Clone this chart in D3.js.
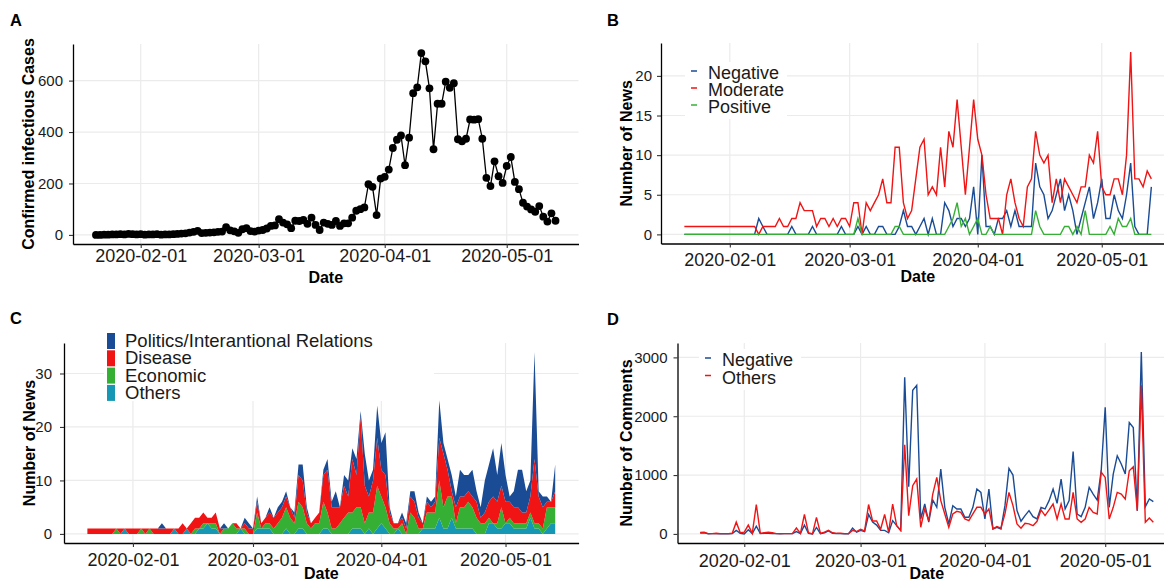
<!DOCTYPE html>
<html>
<head>
<meta charset="utf-8">
<script src="https://cdn.jsdelivr.net/npm/d3@7"></script>
<style>
  body { margin: 0; background: #fff; }
  text { font-family: "Liberation Sans", Arial, Helvetica, sans-serif; }
</style>
</head>
<body>
<svg id="chart" width="1164" height="583"></svg>
<script>
// daily series, one value per day from 2020-01-21 to 2020-05-13 (114 days)
const startDate = "2020-01-21";
const dateTicks = ["2020-02-01", "2020-03-01", "2020-04-01", "2020-05-01"];

// A: confirmed infectious cases
const confirmedCases = [
  0,0,1,1,2,2,3,2,4,3, 2,3,1,2,2,3,1,2,2,3, 4,5,6,9,12,16,7,8,9,10,
  12,13,30,18,14,8,22,26,15,13, 17,19,25,35,37,61,48,41,26,55,
  54,58,43,67,39,19,48,43,39,54, 35,45,45,67,94,100,107,197,187,77,
  219,226,254,338,370,387,271,378,551,574, 707,675,570,333,510,510,596,572,590,372,
  364,374,449,448,450,374,222,190,286,228, 202,268,303,206,178,125,110,99,90,112,
  71,52,84,55
];

// B: number of news by sentiment
const newsNegative = [
  0,0,0,0,0,0,0,0,0,0, 0,0,0,0,0,0,0,0,2,1, 0,0,0,0,0,0,1,0,0,0,
  0,1,0,0,0,0,0,0,1,0, 0,0,1,0,1,0,0,1,1,0, 0,0,1,3,1,1,0,1,2,0,
  2,0,0,4,3,1,2,2,1,2, 6,0,10,1,1,0,2,2,3,1, 3,1,1,1,1,9,6,5,2,3,
  5,7,3,5,3,0,2,4,6,2, 4,7,2,2,5,3,2,5,9,1, 0,0,0,6
];
const newsModerate = [
  1,1,1,1,1,1,1,1,1,1, 1,1,1,1,1,1,1,1,0,1, 1,1,1,2,1,1,2,2,4,3,
  3,3,1,2,2,1,2,1,2,2, 1,4,4,0,4,3,4,5,7,4, 4,11,11,4,2,3,7,11,12,5,
  6,5,11,6,13,11,17,11,5,11, 17,12,10,5,2,2,2,0,5,7, 4,2,1,6,7,13,10,9,10,4,
  7,4,7,6,5,4,6,6,10,9, 13,6,5,5,7,7,5,10,23,7, 7,6,8,7
];
const newsPositive = [
  0,0,0,0,0,0,0,0,0,0, 0,0,0,0,0,0,0,0,0,0, 0,0,0,0,0,0,0,0,0,0,
  0,0,0,0,0,0,0,0,0,0, 0,0,2,0,0,0,0,0,0,0, 0,1,1,0,0,0,0,0,0,0,
  0,0,0,0,1,2,4,1,2,0, 1,2,0,0,1,0,0,0,0,0, 0,0,0,0,0,3,1,0,0,0,
  0,0,1,1,0,1,0,3,0,0, 0,0,0,1,0,2,1,1,2,0, 0,0,0,0
];

// C: number of news by topic (stacked)
const topicPolitics = [
  0,0,0,0,0,0,0,0,0,0, 0,0,0,0,0,0,0,0,1,0, 0,0,0,0,0,0,0,0,0,0,
  0,0,0,1,0,0,0,0,1,1, 0,1,0,0,1,0,1,1,1,0, 1,2,3,1,0,0,0,1,2,1,
  3,0,2,3,2,3,1,6,3,2, 6,5,8,1,0,0,1,1,1,2, 1,0,1,1,1,7,2,2,3,2,
  5,4,3,5,2,2,6,7,9,5, 8,5,1,3,7,8,4,3,20,1, 2,1,0,5
];
const topicDisease = [
  1,1,1,1,1,1,1,0,1,0, 1,1,1,0,1,0,1,1,1,1, 1,0,1,2,0,2,2,2,2,1,
  1,2,1,0,0,0,1,0,1,1, 1,2,1,1,2,2,2,2,2,2, 1,5,5,2,1,1,2,5,8,4,
  4,3,6,3,10,6,17,7,3,6, 9,5,6,2,1,1,1,1,3,3, 2,1,2,1,2,8,10,5,1,3,
  2,2,2,2,3,1,2,3,5,4, 4,4,3,3,3,2,2,3,12,5, 4,1,1,3
];
const topicEconomic = [
  0,0,0,0,0,0,0,1,0,0, 0,0,0,1,0,1,0,0,0,0, 0,0,0,0,0,0,1,0,1,0,
  1,1,0,1,1,2,1,0,1,0, 0,3,0,1,1,1,2,3,4,3, 2,5,4,2,1,2,2,5,3,1,
  1,2,3,4,3,4,4,2,3,4, 8,5,4,2,1,0,2,0,4,3, 1,0,3,3,3,7,4,6,4,1,
  4,4,5,4,3,2,2,1,0,1, 4,0,1,1,1,1,1,1,1,1, 1,4,3,3
];
const topicOthers = [
  0,0,0,0,0,0,0,0,0,1, 0,0,0,0,0,0,0,0,0,0, 0,1,0,0,1,0,0,1,1,2,
  1,1,0,0,0,0,0,1,0,0, 0,1,1,1,1,0,0,0,1,0, 0,1,1,0,0,0,0,1,1,0,
  0,0,0,0,1,1,1,0,1,0, 1,2,1,0,0,1,0,0,0,0, 0,1,1,1,1,3,1,1,3,1,
  1,1,1,1,0,0,0,2,2,1, 1,2,2,1,1,1,1,3,1,1, 0,1,2,2
];

// D: number of comments
const commentsNegative = [
  15,20,0,5,5,0,0,0,5,60, 10,0,70,5,130,5,10,10,5,5, 0,5,5,5,40,5,150,10,0,110,
  5,20,50,10,5,5,0,0,100,30, 60,40,330,200,150,60,60,20,226,141,
  60,2660,800,2440,2525,254,508,200,576,452, 1100,452,170,480,424,424,282,282,452,763,
  706,254,763,85,113,85,480,1113,1000,396, 215,311,396,294,254,452,424,565,763,520,
  932,424,565,1401,339,294,452,791,678,576, 1074,2150,452,1017,1328,1187,1017,1893,1808,396,
  3090,463,593,548
];
const commentsOthers = [
  25,30,5,5,10,5,5,5,10,200, 20,30,150,10,500,10,20,30,20,5, 5,5,5,5,100,10,330,20,0,280,
  10,30,60,20,10,10,5,5,60,40, 80,50,500,220,220,80,330,30,508,141,
  60,1514,310,820,932,113,424,226,678,960, 565,339,113,339,384,367,254,226,339,452,
  452,339,424,85,124,96,339,706,480,170, 96,181,170,141,215,407,311,407,508,254,
  508,254,254,706,254,198,254,452,367,339, 1050,960,254,452,706,678,593,1074,1141,396,
  2525,198,271,198
];

const navy = "#1a4b95", red = "#f01414", green = "#35b035", cyan = "#1697b3";
const gridColor = "#ebebeb";

const parseDay = d3.utcParse("%Y-%m-%d");
const day0 = parseDay(startDate);
const dates = confirmedCases.map((_, i) => d3.utcDay.offset(day0, i));
const tickDates = dateTicks.map(parseDay);

const svg = d3.select("#chart");
svg.append("rect").attr("width", 1164).attr("height", 583).attr("fill", "#fff");

// ggplot-like 5% expansion of the date range
function makeX(left, right) {
  const first = dates[0].getTime(), last = dates[dates.length - 1].getTime();
  const pad = (last - first) * 0.05;
  return d3.scaleUtc().domain([new Date(first - pad), new Date(last + pad)]).range([left, right]);
}

function makeY(maxVal, top, bottom) {
  const pad = maxVal * 0.05;
  return d3.scaleLinear().domain([-pad, maxVal + pad]).range([bottom, top]);
}

// grid, axes, titles for one panel
function drawFrame(p, x, y, yTicks) {
  const g = svg.append("g");

  g.append("g").selectAll("line").data(tickDates).join("line")
    .attr("x1", d => x(d)).attr("x2", d => x(d))
    .attr("y1", p.top).attr("y2", p.bottom)
    .attr("stroke", gridColor).attr("stroke-width", 1.2);
  g.append("g").selectAll("line").data(yTicks).join("line")
    .attr("x1", p.left).attr("x2", p.right)
    .attr("y1", d => y(d)).attr("y2", d => y(d))
    .attr("stroke", gridColor).attr("stroke-width", 1.2);

  const xa = g.append("g").attr("transform", `translate(0,${p.bottom})`)
    .call(d3.axisBottom(x).tickValues(tickDates).tickFormat(d3.utcFormat("%Y-%m-%d"))
      .tickSize(4).tickSizeOuter(0).tickPadding(p.xPad));
  const ya = g.append("g").attr("transform", `translate(${p.left},0)`)
    .call(d3.axisLeft(y).tickValues(yTicks).tickFormat(d3.format("d"))
      .tickSize(4).tickSizeOuter(0).tickPadding(p.yPad));

  [xa, ya].forEach(a => {
    a.select(".domain").attr("stroke", "#000").attr("stroke-width", 1.3);
    a.selectAll(".tick line").attr("stroke", "#333").attr("stroke-width", 1.1);
  });
  xa.selectAll("text").style("font-size", "18px").attr("fill", "#1a1a1a")
    .style("font-family", "Liberation Sans, Arial, sans-serif");
  ya.selectAll("text").style("font-size", "15px").attr("fill", "#1a1a1a")
    .style("font-family", "Liberation Sans, Arial, sans-serif");

  g.append("text")
    .attr("x", (p.left + p.right) / 2).attr("y", p.dateY)
    .attr("text-anchor", "middle")
    .style("font-size", "16px").style("font-weight", "bold")
    .text("Date");

  g.append("text")
    .attr("transform", `translate(${p.titleX},${(p.top + p.bottom) / 2}) rotate(-90)`)
    .attr("text-anchor", "middle")
    .style("font-size", "16px").style("font-weight", "bold")
    .text(p.yTitle);

  g.append("text")
    .attr("x", p.tagX).attr("y", p.tagY)
    .style("font-size", "16.5px").style("font-weight", "bold")
    .text(p.tag);
  return g;
}

// line legend with short dash keys
function lineLegend(items, o) {
  const g = svg.append("g");
  g.append("rect").attr("x", o.x - 6).attr("y", o.y - 17)
    .attr("width", o.w).attr("height", items.length * o.step + 6).attr("fill", "#fff");
  items.forEach((it, i) => {
    const by = o.y + i * o.step;
    g.append("line").attr("x1", o.x).attr("x2", o.x + 6)
      .attr("y1", by - 8).attr("y2", by - 8)
      .attr("stroke", it.color).attr("stroke-width", 1.5);
    g.append("text").attr("x", o.x + 17).attr("y", by)
      .style("font-size", "18px").attr("fill", "#1a1a1a").text(it.label);
  });
}

// ---------- A ----------
const pA = { left: 73, right: 578.5, top: 44, bottom: 244, xPad: 1, yPad: 6,
  dateY: 283, titleX: 33.5, yTitle: "Confirmed infectious Cases", tag: "A", tagX: 10, tagY: 26 };
const xA = makeX(pA.left, pA.right);
const yA = makeY(d3.max(confirmedCases), pA.top, pA.bottom);
const gA = drawFrame(pA, xA, yA, [0, 200, 400, 600]);

gA.append("path")
  .datum(confirmedCases)
  .attr("fill", "none").attr("stroke", "#000").attr("stroke-width", 1.3)
  .attr("d", d3.line().x((d, i) => xA(dates[i])).y(d => yA(d)));
gA.append("g").selectAll("circle").data(confirmedCases).join("circle")
  .attr("cx", (d, i) => xA(dates[i])).attr("cy", d => yA(d))
  .attr("r", 3.9).attr("fill", "#000");

// ---------- B ----------
const pB = { left: 661, right: 1174.7, top: 43, bottom: 243.5, xPad: 5.5, yPad: 5,
  dateY: 282, titleX: 632, yTitle: "Number of News", tag: "B", tagX: 607, tagY: 26 };
const xB = makeX(pB.left, pB.right);
const yB = makeY(d3.max([...newsNegative, ...newsModerate, ...newsPositive]), pB.top, pB.bottom);
const gB = drawFrame(pB, xB, yB, [0, 5, 10, 15, 20]);

const sentiment = [
  { label: "Negative", values: newsNegative, color: navy },
  { label: "Moderate", values: newsModerate, color: red },
  { label: "Positive", values: newsPositive, color: green }
];
sentiment.forEach(s => {
  gB.append("path")
    .datum(s.values)
    .attr("fill", "none").attr("stroke", s.color).attr("stroke-width", 1.4)
    .attr("d", d3.line().x((d, i) => xB(dates[i])).y(d => yB(d)));
});
lineLegend(sentiment, { x: 691, y: 79, step: 17, w: 102 });

// ---------- C ----------
const pC = { left: 64, right: 578.6, top: 343, bottom: 543, xPad: 6, yPad: 8,
  dateY: 579, titleX: 35, yTitle: "Number of News", tag: "C", tagX: 10, tagY: 324 };
const topicRows = dates.map((d, i) => ({
  date: d,
  Others: topicOthers[i],
  Economic: topicEconomic[i],
  Disease: topicDisease[i],
  Politics: topicPolitics[i]
}));
const stackKeys = ["Others", "Economic", "Disease", "Politics"];
const stacked = d3.stack().keys(stackKeys)(topicRows);
const xC = makeX(pC.left, pC.right);
const yC = makeY(d3.max(stacked[stacked.length - 1], d => d[1]), pC.top, pC.bottom);
const gC = drawFrame(pC, xC, yC, [0, 10, 20, 30]);

const topicColor = { Politics: navy, Disease: red, Economic: green, Others: cyan };
const area = d3.area().x(d => xC(d.data.date)).y0(d => yC(d[0])).y1(d => yC(d[1]));
gC.append("g").selectAll("path").data(stacked).join("path")
  .attr("fill", d => topicColor[d.key])
  .attr("d", area);

// legend with filled keys, white background hides the grid
const legC = svg.append("g");
legC.append("rect").attr("x", 104).attr("y", 329).attr("width", 330).attr("height", 72).attr("fill", "#fff");
const topicLegend = [
  { label: "Politics/Interantional Relations", key: "Politics" },
  { label: "Disease", key: "Disease" },
  { label: "Economic", key: "Economic" },
  { label: "Others", key: "Others" }
];
topicLegend.forEach((t, i) => {
  const by = 347 + i * 17.3;
  legC.append("rect").attr("x", 107).attr("y", by - 14).attr("width", 8).attr("height", 16)
    .attr("fill", topicColor[t.key]);
  legC.append("text").attr("x", 125).attr("y", by)
    .style("font-size", "18.5px").attr("fill", "#1a1a1a").text(t.label);
});

// ---------- D ----------
const pD = { left: 677.5, right: 1176, top: 343, bottom: 543, xPad: 7, yPad: 6,
  dateY: 579, titleX: 632, yTitle: "Number of Comments", tag: "D", tagX: 607, tagY: 325 };
const xD = makeX(pD.left, pD.right);
const yD = makeY(d3.max([...commentsNegative, ...commentsOthers]), pD.top, pD.bottom);
const gD = drawFrame(pD, xD, yD, [0, 1000, 2000, 3000]);

const commentSeries = [
  { label: "Negative", values: commentsNegative, color: navy },
  { label: "Others", values: commentsOthers, color: red }
];
commentSeries.forEach(s => {
  gD.append("path")
    .datum(s.values)
    .attr("fill", "none").attr("stroke", s.color).attr("stroke-width", 1.4)
    .attr("d", d3.line().x((d, i) => xD(dates[i])).y(d => yD(d)));
});
lineLegend(commentSeries, { x: 705, y: 366, step: 17.5, w: 102 });
</script>
</body>
</html>
